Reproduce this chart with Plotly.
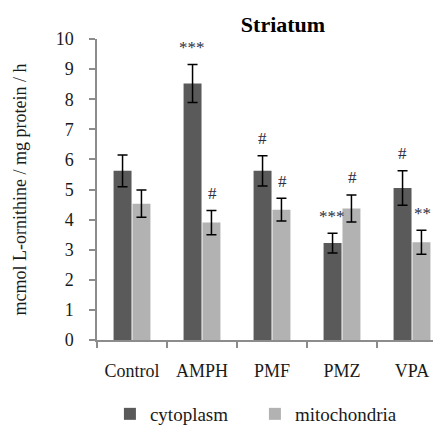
import plotly.graph_objects as go

categories = ["Control", "AMPH", "PMF", "PMZ", "VPA"]
cytoplasm = [5.62, 8.52, 5.62, 3.22, 5.05]
cytoplasm_err = [0.53, 0.63, 0.5, 0.33, 0.57]
mitochondria = [4.53, 3.9, 4.33, 4.37, 3.25]
mitochondria_err = [0.45, 0.4, 0.38, 0.45, 0.4]
cyto_marks = ["", "***", "#", "***", "#"]
mito_marks = ["", "#", "#", "#", "**"]

FONT = "Liberation Serif"

fig = go.Figure()
fig.add_trace(go.Bar(
    name="cytoplasm", x=categories, y=cytoplasm,
    marker=dict(color="#5a5a5a", line=dict(width=0)),
    error_y=dict(type="data", array=cytoplasm_err, color="black", thickness=1.5, width=5),
))
fig.add_trace(go.Bar(
    name="mitochondria", x=categories, y=mitochondria,
    marker=dict(color="#b2b2b2", line=dict(width=0)),
    error_y=dict(type="data", array=mitochondria_err, color="black", thickness=1.5, width=5),
))

for cat, v, e, m in zip(categories, cytoplasm, cytoplasm_err, cyto_marks):
    if m:
        fig.add_annotation(x=cat, y=v + e, text=m, showarrow=False, xref="x", yref="y",
                           xshift=-10, yshift=17, yanchor="middle",
                           font=dict(family=FONT, size=17, color="#2e2e40"))
for cat, v, e, m in zip(categories, mitochondria, mitochondria_err, mito_marks):
    if m:
        fig.add_annotation(x=cat, y=v + e, text=m, showarrow=False, xref="x", yref="y",
                           xshift=10, yshift=17, yanchor="middle",
                           font=dict(family=FONT, size=17, color="#2e2e40"))

fig.update_layout(
    width=433, height=425,
    margin=dict(l=97, r=0, t=39, b=85),
    paper_bgcolor="white", plot_bgcolor="white",
    barmode="group", bargap=0.46, bargroupgap=0.05,
    font=dict(family=FONT, size=18, color="#1a1a1a"),
    title=dict(text="<b>Striatum</b>", x=283 / 433, xanchor="center", y=1 - 24 / 425, yanchor="middle",
               font=dict(family=FONT, size=22, color="black")),
    showlegend=True,
    legend=dict(orientation="h", x=0.47, xanchor="center", yref="container", y=1 - 414 / 425,
                yanchor="middle",
                font=dict(family=FONT, size=19, color="#1a1a1a"), entrywidth=100,
                itemsizing="constant"),
)
fig.update_xaxes(
    range=[-0.5, 4.3], showline=True, linecolor="#8c8c8c", linewidth=1.5,
    ticks="outside", tickson="boundaries", ticklen=6, tickcolor="#8c8c8c", tickwidth=1.5,
    showgrid=False, ticklabelstandoff=14, automargin=False,
    tickfont=dict(family=FONT, size=18, color="#1a1a1a"),
)
fig.update_yaxes(
    range=[0, 10], dtick=1, showline=True, linecolor="#8c8c8c", linewidth=1.5,
    ticks="outside", ticklen=6, tickcolor="#8c8c8c", tickwidth=1.5, showgrid=False,
    zeroline=False, ticklabelstandoff=12, automargin=False,
    tickfont=dict(family=FONT, size=18, color="#1a1a1a"),
    title=dict(text="mcmol L-ornithine / mg protein / h", font=dict(family=FONT, size=18, color="#1a1a1a"),
               standoff=24),
)

fig.write_html("out.html", config={"displayModeBar": False},
               post_script="document.body.style.margin='0';document.body.style.overflow='hidden';")
